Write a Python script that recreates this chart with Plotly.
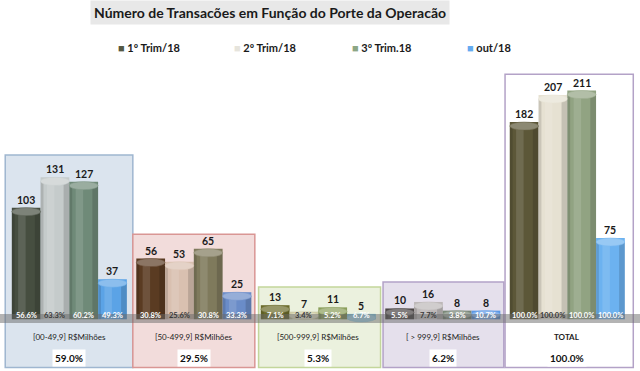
import plotly.graph_objects as go

# ---------------- data ----------------
groups = ["[00-49,9] R$Milhões", "[50-499,9] R$Milhões", "[500-999,9] R$Milhões",
          "[ > 999,9] R$Milhões", "TOTAL"]
group_share = ["59.0%", "29.5%", "5.3%", "6.2%", "100.0%"]
series_names = ["1º Trim/18", "2º Trim/18", "3º Trim.18", "out/18"]

trim1 = [103, 56, 13, 10, 182]
trim2 = [131, 53, 7, 16, 207]
trim3 = [127, 65, 11, 8, 211]
out18 = [37, 25, 5, 8, 75]

pct_trim1 = ["56.6%", "30.8%", "7.1%", "5.5%", "100.0%"]
pct_trim2 = ["63.3%", "25.6%", "3.4%", "7.7%", "100.0%"]
pct_trim3 = ["60.2%", "30.8%", "5.2%", "3.8%", "100.0%"]
pct_out18 = ["49.3%", "33.3%", "6.7%", "10.7%", "100.0%"]

values = [trim1, trim2, trim3, out18]
pcts = [pct_trim1, pct_trim2, pct_trim3, pct_out18]

# ---------------- styles ----------------
bar_colors = [  # per series, per group
    ["#464e40", "#5a3b22", "#6b6b2a", "#4c4646", "#5c5738"],
    ["#c5cbcb", "#d9c0b0", "#cfcca6", "#bdb8b8", "#e6e1d2"],
    ["#6f8a78", "#7f7a5c", "#8a9e5a", "#7a8878", "#91a382"],
    ["#5ba3e6", "#6a8cc8", "#7ec4dc", "#5b98e6", "#6cb2f0"],
]
legend_colors = ["#555843", "#e6e4dc", "#8ca684", "#64aaf0"]
pct_text_colors = ["white", "#3a3a3a", "white", "white"]

box_fill = ["#dbe4ee", "#f2dcdb", "#ebf1de", "#e5e0ec", "#ffffff"]
box_line = ["#9fb6d0", "#d99694", "#c3d69b", "#b3a2c7", "#b3a2c7"]
box_x = [(-0.515, 0.51), (-0.49, 0.49), (-0.48, 0.50), (-0.48, 0.49), (-0.50, 0.53)]
box_top = [151.6, 78.5, 29.8, 34.4, 226]
box_bottom = -44.5

FONT = "Lato"
bar_w = 0.231
cap_h = 7.4


def lighten(hexc, f):
    h = hexc.lstrip("#")
    r, g, b = int(h[0:2], 16), int(h[2:4], 16), int(h[4:6], 16)
    r = int(r + (255 - r) * f); g = int(g + (255 - g) * f); b = int(b + (255 - b) * f)
    return f"#{r:02x}{g:02x}{b:02x}"


xpos = list(range(len(groups)))
fig = go.Figure()
shapes = []
annotations = []

# group boxes
for i in xpos:
    shapes.append(dict(type="rect", xref="x", yref="y", layer="below",
                       x0=i + box_x[i][0], x1=i + box_x[i][1], y0=box_bottom, y1=box_top[i],
                       fillcolor=box_fill[i], line=dict(color=box_line[i], width=1.5)))

for k, (name, vals) in enumerate(zip(series_names, values)):
    off = -2 * bar_w + k * bar_w
    fig.add_trace(go.Bar(
        name=name, x=xpos, y=vals, width=bar_w, offset=off,
        marker=dict(color=bar_colors[k], line=dict(width=0)),
        showlegend=False, hoverinfo="y",
    ))
    for i, v in enumerate(vals):
        x0 = i + off
        top = v - cap_h / 2
        # cylinder shading (highlight + shadow)
        shapes.append(dict(type="rect", xref="x", yref="y", layer="above",
                           x0=x0 + 0.22 * bar_w, x1=x0 + 0.48 * bar_w, y0=0, y1=top,
                           fillcolor="rgba(255,255,255,0.12)", line=dict(width=0)))
        shapes.append(dict(type="rect", xref="x", yref="y", layer="above",
                           x0=x0, x1=x0 + 0.1 * bar_w, y0=0, y1=top,
                           fillcolor="rgba(0,0,0,0.12)", line=dict(width=0)))
        shapes.append(dict(type="rect", xref="x", yref="y", layer="above",
                           x0=x0 + 0.8 * bar_w, x1=x0 + bar_w, y0=0, y1=top,
                           fillcolor="rgba(0,0,0,0.14)", line=dict(width=0)))
        # cylinder cap
        shapes.append(dict(type="circle", xref="x", yref="y", layer="above",
                           x0=x0, x1=x0 + bar_w, y0=v - cap_h, y1=v,
                           fillcolor=lighten(bar_colors[k][i], 0.3),
                           line=dict(color=lighten(bar_colors[k][i], 0.1), width=0.5)))
        # value labels
        annotations.append(dict(x=x0 + bar_w / 2, y=v + 7.4, xref="x", yref="y",
                                text=str(v), showarrow=False,
                                font=dict(family=FONT, size=10.5, color="#1a1a1a", weight="bold")))
        annotations.append(dict(x=x0 + bar_w / 2, y=3.8, xref="x", yref="y",
                                text=pcts[k][i], showarrow=False,
                                font=dict(family=FONT, size=7.5, color=pct_text_colors[k],
                                          weight="bold")))

# floor band
shapes.append(dict(type="rect", xref="paper", yref="y", layer="above",
                   x0=0, x1=1, y0=-3.4, y1=4.9,
                   fillcolor="rgba(105,105,105,0.5)", line=dict(width=0)))

for i in xpos:
    annotations.append(dict(x=i, y=-16.3, xref="x", yref="y", text=groups[i], showarrow=False,
                            font=dict(family=FONT, size=8, color="#222222",
                                      weight="bold" if groups[i] == "TOTAL" else "normal")))
    annotations.append(dict(x=i, y=-35.7, xref="x", yref="y", text=group_share[i],
                            showarrow=False, bgcolor="white", borderpad=2,
                            font=dict(family=FONT, size=10, color="#111111", weight="bold")))

# title
annotations.append(dict(x=270 / 640, y=(371 - 13) / 301, xref="paper", yref="paper",
                        xanchor="center", yanchor="middle",
                        text="Número de Transacões em Função do Porte da Operacão",
                        showarrow=False, bgcolor="#e8e8e8", borderpad=3,
                        font=dict(family=FONT, size=14, color="#1a1a1a", weight="bold")))

# legend (as annotations)
legend_x = [116, 232, 350, 465]
for k, name in enumerate(series_names):
    annotations.append(dict(x=legend_x[k] / 640, y=(371 - 47) / 301, xref="paper", yref="paper",
                            xanchor="left", yanchor="middle",
                            text=f"<span style='color:{legend_colors[k]}'>■</span> {name}",
                            showarrow=False,
                            font=dict(family=FONT, size=11, color="#1a1a1a", weight="bold")))

fig.update_layout(
    width=640, height=371,
    margin=dict(l=0, r=0, t=70, b=0),
    paper_bgcolor="white", plot_bgcolor="rgba(0,0,0,0)",
    barmode="overlay",
    xaxis=dict(range=[-0.557, 4.584], visible=False, fixedrange=True),
    yaxis=dict(range=[-47.7, 230], visible=False, fixedrange=True),
    shapes=shapes, annotations=annotations,
    showlegend=False,
)

fig.write_html("out.html", config={"displayModeBar": False},
               post_script="document.body.style.margin='0';")
